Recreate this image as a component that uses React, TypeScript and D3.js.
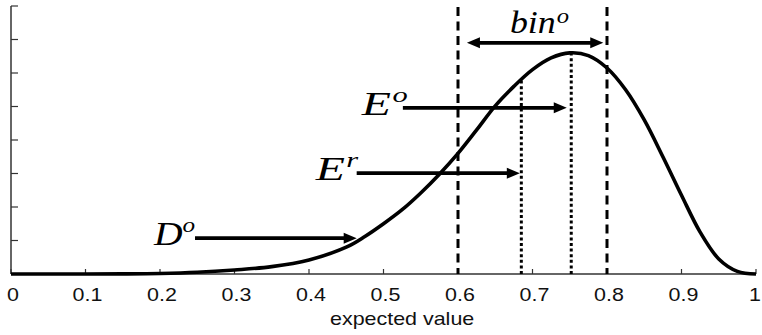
import React from 'react';
import * as d3 from 'd3';

// density curve
const xs = [0, 0.05, 0.1, 0.15, 0.2, 0.25, 0.3, 0.35, 0.4, 0.45, 0.475, 0.5, 0.525, 0.55, 0.575, 0.6, 0.625, 0.65, 0.675, 0.7, 0.725, 0.75, 0.775, 0.8, 0.825, 0.85, 0.875, 0.9, 0.925, 0.95, 0.975, 1];
const density = [0, 0, 0, 0.003, 0.015, 0.05, 0.12, 0.22, 0.42, 0.8, 1.12, 1.5, 1.92, 2.42, 2.98, 3.6, 4.3, 5.02, 5.6, 6.1, 6.45, 6.6, 6.52, 6.15, 5.5, 4.6, 3.5, 2.35, 1.25, 0.45, 0.08, 0];

const xTicks = [0, 0.1, 0.2, 0.3, 0.4, 0.5, 0.6, 0.7, 0.8, 0.9, 1];
const yTicks = [0, 1, 2, 3, 4, 5, 6, 7, 8];

// bin edges (dashed) and the double arrow between them
const binEdges = [0.6, 0.8];
const binArrow = [0.612, 0.795];
const binLevel = 6.9;

// expected values (dotted lines up to the curve)
const expX = [0.685, 0.752];
const expTop = [5.82, 6.6];

// labelled arrows
const arrowName = ['D', 'E', 'E'];
const arrowSup = ['o', 'r', 'o'];
const arrowFrom = [0.247, 0.464, 0.526];
const arrowTo = [0.464, 0.683, 0.746];
const arrowLevel = [1.07, 3.01, 4.96];

const width = 762;
const height = 335;
const left = 11;
const right = 756;
const top = 6;
const bottom = 274;

const labelFont = '"Liberation Serif", "DejaVu Serif", serif';
const tickFont = '"Liberation Sans", Arial, sans-serif';
// the original figure is stretched sideways, so is its text
const stretch = 1.16;

function Arrow({ x1, x2, y, both }: { x1: number; x2: number; y: number; both?: boolean }) {
    const len = 13;
    const half = 5.5;
    const a = both ? x1 + len - 2 : x1;
    const b = x2 - len + 2;
    return (
        <g>
            <line x1={a} x2={b} y1={y} y2={y} stroke="#000" strokeWidth={3.6} />
            <polygon points={`${x2},${y} ${x2 - len},${y - half} ${x2 - len},${y + half}`} fill="#000" />
            {both && <polygon points={`${x1},${y} ${x1 + len},${y - half} ${x1 + len},${y + half}`} fill="#000" />}
        </g>
    );
}

export default function App() {
    const x = d3.scaleLinear().domain([0, 1]).range([left, right]);
    const y = d3.scaleLinear().domain([0, 8]).range([bottom, top]);

    const line = d3.line<number>()
        .x((d, i) => x(xs[i]))
        .y(d => y(Math.max(0, d)))
        .curve(d3.curveCatmullRom.alpha(0.5));

    return (
        <svg width={width} height={height} style={{ position: 'absolute', left: 0, top: 0, background: '#fff' }}>
            {/* axes */}
            <line x1={left} x2={left} y1={top} y2={bottom} stroke="#333" strokeWidth={1.5} />
            <line x1={left} x2={right} y1={bottom} y2={bottom} stroke="#333" strokeWidth={1.5} />
            {yTicks.map(t => (
                <line key={'y' + t} x1={left} x2={left + 7} y1={y(t)} y2={y(t)} stroke="#333" strokeWidth={1.2} />
            ))}
            {xTicks.map(t => (
                <g key={'x' + t}>
                    <line x1={x(t)} x2={x(t)} y1={bottom} y2={bottom - 5} stroke="#333" strokeWidth={1.2} />
                    <text transform={`translate(${t === 1 ? x(t) - 1 : x(t) + 2},301) scale(${stretch},1)`} textAnchor="middle" fontFamily={tickFont} fontSize={18.5} fill="#111">{t}</text>
                </g>
            ))}
            <text transform={`translate(${x(0.525)},325) scale(${stretch},1)`} textAnchor="middle" fontFamily={tickFont} fontSize={18.5} fill="#111">expected value</text>

            {/* bin edges */}
            {binEdges.map(b => (
                <line key={'b' + b} x1={x(b)} x2={x(b)} y1={y(8) + 1} y2={y(0)} stroke="#000" strokeWidth={3} strokeDasharray="9,5.5" />
            ))}

            {/* expected value markers */}
            {expX.map((e, i) => (
                <line key={'e' + e} x1={x(e)} x2={x(e)} y1={y(0)} y2={y(expTop[i])} stroke="#000" strokeWidth={3} strokeDasharray="3,2.6" />
            ))}

            {/* density */}
            <path d={line(density) || ''} fill="none" stroke="#000" strokeWidth={3.6} />

            {/* bin arrow and label */}
            <Arrow x1={x(binArrow[0])} x2={x(binArrow[1])} y={y(binLevel)} both />
            <text transform={`translate(${x(binArrow[0]) + 43},${y(binLevel) - 10}) scale(1.12,1)`} fontFamily={labelFont} fontStyle="italic" fontSize={32}>
                bin<tspan dx={1} dy={-10} fontSize={22}>o</tspan>
            </text>

            {/* labelled arrows */}
            {arrowName.map((n, i) => (
                <g key={'a' + i}>
                    <Arrow x1={x(arrowFrom[i])} x2={x(arrowTo[i])} y={y(arrowLevel[i])} />
                    <text transform={`translate(${x(arrowFrom[i]) - 41},${y(arrowLevel[i]) + 7}) scale(${n === 'E' ? 1.45 : 1.2},1)`} fontFamily={labelFont} fontStyle="italic" fontSize={33}>
                        {n}<tspan dx={n === 'E' ? 1 : 0} dy={-13} fontSize={21}>{arrowSup[i]}</tspan>
                    </text>
                </g>
            ))}
        </svg>
    );
}
